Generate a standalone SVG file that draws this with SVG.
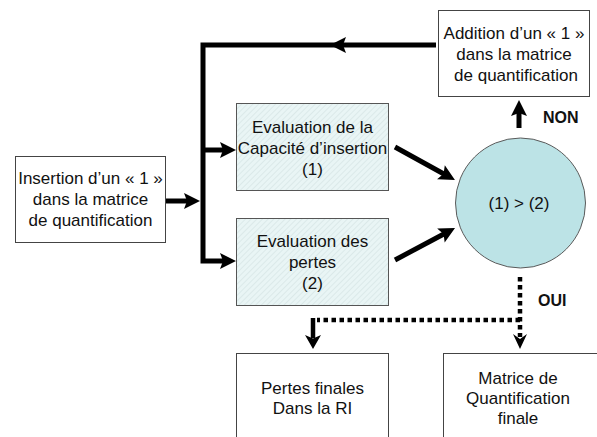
<svg xmlns="http://www.w3.org/2000/svg" width="597" height="437" viewBox="0 0 597 437">
<style>
.box{fill:#ffffff;stroke:#444444;stroke-width:1}
.hbox{fill:url(#hatch);stroke:#555555;stroke-width:1}
.t{font-family:"Liberation Sans",Arial,sans-serif;font-size:17px;fill:#111111;text-anchor:middle}
.b{font-family:"Liberation Sans",Arial,sans-serif;font-size:16px;font-weight:bold;fill:#111111}
.conn{fill:none;stroke:#000000;stroke-width:5}
.dot{fill:none;stroke:#000000;stroke-width:4.5;stroke-dasharray:4.5 3.5}
</style>
<defs>
<pattern id="hatch" patternUnits="userSpaceOnUse" width="4" height="4" patternTransform="rotate(45)">
<rect width="4" height="4" fill="#e9f5f5"/>
<line x1="0" y1="0" x2="0" y2="4" stroke="#d2e2e2" stroke-width="1.2"/>
</pattern>
<marker id="ah" markerUnits="userSpaceOnUse" markerWidth="17" markerHeight="17" refX="6" refY="8" orient="auto" overflow="visible">
<path d="M0,0 L16,8 L0,16 L3,8 z" fill="#000000"/>
</marker>
</defs>

<g id="connectors">
<path class="conn" d="M166,201 H190" marker-end="url(#ah)"/>
<path class="conn" d="M436,45 H340" marker-end="url(#ah)"/>
<path class="conn" d="M336,45 H203 V261 H226" marker-end="url(#ah)"/>
<path class="conn" d="M203,150 H226" marker-end="url(#ah)"/>
<path class="conn" d="M395,147 L446.2,175.2" marker-end="url(#ah)"/>
<path class="conn" d="M395,260 L446.2,232.7" marker-end="url(#ah)"/>
<path class="conn" d="M519,128 V110" marker-end="url(#ah)"/>
<path class="dot" d="M520,277 V337"/>
<path class="dot" d="M520,320 H317"/>
<path d="M313,318 V338" fill="none" stroke="#000000" stroke-width="4.5"/>
<polygon points="313,349 305,335 313,338.5 321,335" fill="#000000"/>
<polygon points="520,349 513,334 520,339 527,334" fill="#000000"/>
</g>

<g id="insertion">
<rect class="box" x="15.5" y="156.5" width="150" height="86"/>
<text class="t" x="90.5" y="184">Insertion d’un « 1 »</text>
<text class="t" x="90.5" y="205">dans la matrice</text>
<text class="t" x="90.5" y="226">de quantification</text>
</g>

<g id="eval1">
<rect class="hbox" x="236.5" y="103.5" width="152" height="87"/>
<text class="t" x="312.5" y="133">Evaluation de la</text>
<text class="t" x="312.5" y="154">Capacité d’insertion</text>
<text class="t" x="312.5" y="175">(1)</text>
</g>

<g id="eval2">
<rect class="hbox" x="236.5" y="218.5" width="152" height="87"/>
<text class="t" x="312.5" y="247">Evaluation des</text>
<text class="t" x="312.5" y="268">pertes</text>
<text class="t" x="312.5" y="289">(2)</text>
</g>

<g id="addition">
<rect class="box" x="438.5" y="10.5" width="151" height="86"/>
<text class="t" x="514" y="39">Addition d’un « 1 »</text>
<text class="t" x="514" y="60">dans la matrice</text>
<text class="t" x="516" y="81">de quantification</text>
</g>

<g id="compare">
<circle cx="520.5" cy="203" r="65" fill="#bce3e6" stroke="#5a5a5a" stroke-width="1"/>
<text class="t" x="519" y="209">(1) &gt; (2)</text>
</g>

<g id="label-non">
<text class="b" x="543" y="123">NON</text>
</g>
<g id="label-oui">
<text class="b" x="538" y="306">OUI</text>
</g>

<g id="pertes">
<rect class="box" x="236.5" y="353.5" width="152" height="90"/>
<text class="t" x="312.5" y="394">Pertes finales</text>
<text class="t" x="312.5" y="414">Dans la RI</text>
</g>

<g id="matrice">
<rect class="box" x="443.5" y="353.5" width="160" height="90"/>
<text class="t" x="518" y="384">Matrice de</text>
<text class="t" x="518" y="404">Quantification</text>
<text class="t" x="518" y="424">finale</text>
</g>
</svg>
